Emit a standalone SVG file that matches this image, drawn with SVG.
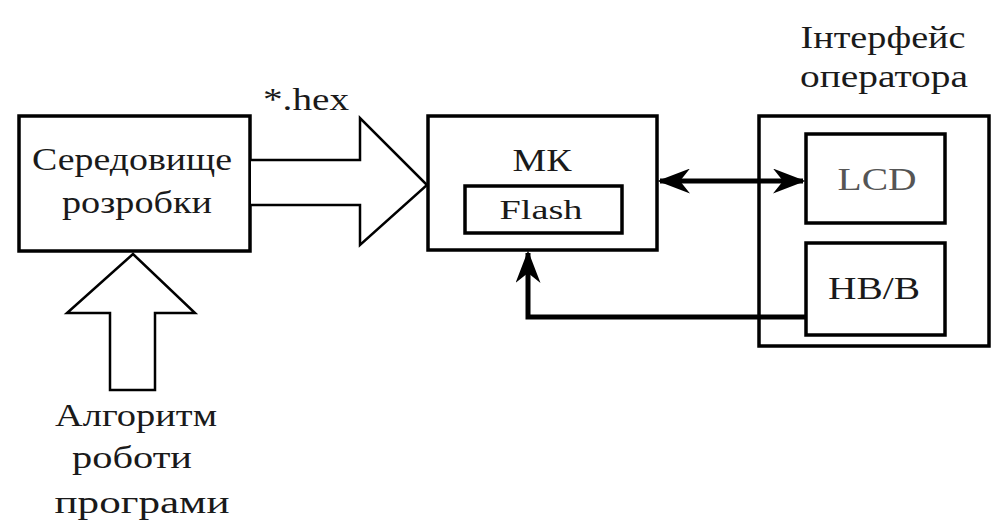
<svg xmlns="http://www.w3.org/2000/svg" width="991" height="526" viewBox="0 0 991 526">
<style>
.box{fill:#fff;stroke:#000;stroke-width:3.5}
.outer{fill:none;stroke:#000;stroke-width:3.5}
.big{fill:#fff;stroke:#000;stroke-width:2.5;stroke-linejoin:miter}
.line{fill:none;stroke:#000;stroke-width:5}
.t{font-family:'Liberation Serif','Times New Roman',Tinos,'DejaVu Serif',serif;font-size:32px;fill:#1a1a1a;text-anchor:middle}
</style>
<defs>
<marker id="ah" viewBox="0 0 13 10" refX="12" refY="5" markerWidth="6.5" markerHeight="5" orient="auto-start-reverse" markerUnits="strokeWidth">
<path d="M0,0 L13,5 L0,10 L4,5 z" fill="#000"/>
</marker>
</defs>
<rect width="991" height="526" fill="#fff"/>
<g id="env">
<rect class="box" x="19" y="116" width="231" height="135"/>
<text class="t" x="132" y="170" textLength="200" lengthAdjust="spacingAndGlyphs">Середовище</text>
<text class="t" x="137" y="213" textLength="150" lengthAdjust="spacingAndGlyphs">розробки</text>
</g>
<g id="mk">
<rect class="box" x="428" y="116" width="229" height="134"/>
<text class="t" x="542" y="171" textLength="59" lengthAdjust="spacingAndGlyphs">МК</text>
<rect class="box" x="465" y="186" width="157" height="47"/>
<text class="t" x="541" y="219" style="font-size:28px" textLength="83" lengthAdjust="spacingAndGlyphs">Flash</text>
</g>
<g id="operator">
<text class="t" x="883" y="48" textLength="165" lengthAdjust="spacingAndGlyphs">Інтерфейс</text>
<text class="t" x="884" y="87" textLength="168" lengthAdjust="spacingAndGlyphs">оператора</text>
<rect class="outer" x="759" y="116" width="230" height="230"/>
</g>
<g id="lcd">
<rect class="box" x="806" y="134" width="139" height="89"/>
<text class="t" x="877" y="190" style="fill:#555" textLength="79" lengthAdjust="spacingAndGlyphs">LCD</text>
</g>
<g id="io">
<rect class="box" x="806" y="243" width="139" height="92"/>
<text class="t" x="874" y="299" textLength="92" lengthAdjust="spacingAndGlyphs">НВ/В</text>
</g>
<g id="algo">
<text class="t" x="136" y="426" textLength="162" lengthAdjust="spacingAndGlyphs">Алгоритм</text>
<text class="t" x="132" y="468" textLength="120" lengthAdjust="spacingAndGlyphs">роботи</text>
<text class="t" x="142" y="513" textLength="175" lengthAdjust="spacingAndGlyphs">програми</text>
</g>
<g id="connectors">
<path id="hex-arrow" class="big" d="M251,160 H360 V118 L427,185 L360,245 V205 H251"/>
<path id="algo-arrow" class="big" d="M110,390 V313 H67 L133,254 L195,313 H155 V390 Z"/>
<path class="line" d="M660,181 H803" marker-start="url(#ah)" marker-end="url(#ah)"/>
<path class="line" d="M805,317 H528 V253" marker-end="url(#ah)"/>
<text class="t" x="306" y="110" textLength="86" lengthAdjust="spacingAndGlyphs">*.hex</text>
</g>
</svg>
